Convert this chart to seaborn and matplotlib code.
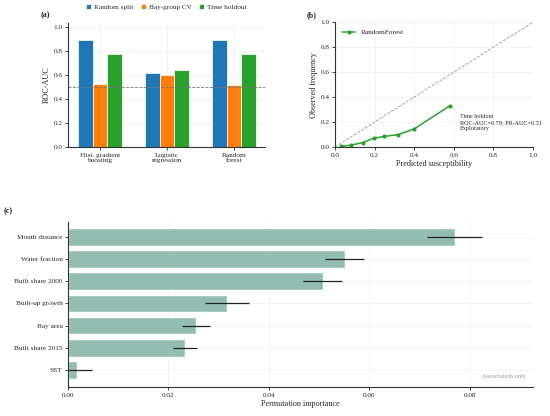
import numpy as np
import pandas as pd
import matplotlib
matplotlib.use("Agg")
import matplotlib.pyplot as plt
import seaborn as sns

sns.set_theme(style="ticks")
plt.rcParams['font.family'] = ['Liberation Serif', 'DejaVu Serif']
plt.rcParams['axes.edgecolor'] = '#333333'
plt.rcParams['axes.linewidth'] = 0.8

# ---- data (a) ----
models = ["Hist. gradient\nboosting", "Logistic\nregression", "Random\nforest"]
schemes = ["Random split", "Bay-group CV", "Time holdout"]
auc_random = [0.89, 0.62, 0.89]
auc_bay = [0.53, 0.60, 0.52]
auc_time = [0.775, 0.64, 0.78]

# ---- data (b) ----
pred_bins = [0.03, 0.08, 0.14, 0.195, 0.25, 0.32, 0.40, 0.58]
obs_freq = [0.005, 0.015, 0.035, 0.07, 0.085, 0.10, 0.145, 0.33]

# ---- data (c) ----
features = ["Mouth distance", "Water fraction", "Built share 2000", "Built-up growth",
            "Bay area", "Built share 2015", "SST"]
importance = [0.077, 0.0551, 0.0507, 0.0316, 0.0255, 0.0233, 0.0017]
imp_err = [0.0055, 0.0039, 0.0039, 0.0044, 0.0028, 0.0024, 0.0031]

colors = ["#1f77b4", "#ff7f0e", "#2ca02c"]
fs_lab = 5.9
fs_tick = 5.2

fig = plt.figure(figsize=(5.5, 4.16), dpi=100)
grid_kw = dict(color="#eeeeee", linewidth=0.5)

# ---------- panel (a) ----------
ax1 = fig.add_axes([0.1236, 0.6466, 0.358, 0.298])
df_a = pd.DataFrame({"model": models * 3,
                     "scheme": sum([[s] * 3 for s in schemes], []),
                     "auc": auc_random + auc_bay + auc_time})
sns.barplot(data=df_a, x="model", y="auc", hue="scheme", palette=colors, saturation=1,
            width=0.66, edgecolor="white", linewidth=0.5, ax=ax1, legend=True)
ax1.axhline(0.5, color="#777777", linestyle="--", linewidth=0.6)
ax1.set_xlim(-0.48, 2.46)
ax1.set_ylim(0, 1.035)
ax1.set_yticks(np.arange(0, 1.01, 0.2))
ax1.set_xlabel("")
ax1.set_ylabel("ROC-AUC", fontsize=fs_lab, labelpad=2)
ax1.tick_params(labelsize=fs_tick, length=2, width=0.6, pad=2)
ax1.grid(True, **grid_kw)
ax1.set_axisbelow(True)
h, l = ax1.get_legend_handles_labels()
ax1.get_legend().remove()
fig.legend(h, l, loc="center", bbox_to_anchor=(0.302, 0.983), ncol=3, frameon=False,
           fontsize=fs_tick, handlelength=0.7, handleheight=0.7, handletextpad=0.4,
           columnspacing=1.0)
sns.despine(ax=ax1)
fig.text(0.073, 0.963, "(a)", fontsize=fs_lab, fontweight="bold", va="center", ha="left")

# ---------- panel (b) ----------
ax2 = fig.add_axes([0.609, 0.6466, 0.36, 0.3])
ax2.plot([0, 1], [0, 1], linestyle="--", color="#999999", linewidth=0.6)
sns.lineplot(x=pred_bins, y=obs_freq, marker="o", color="#2ca02c", markersize=3,
             markeredgewidth=0, linewidth=1.1, label="RandomForest", ax=ax2)
ax2.set_xlim(0, 1)
ax2.set_ylim(0, 1)
ax2.set_xticks(np.arange(0, 1.01, 0.2))
ax2.set_yticks(np.arange(0, 1.01, 0.2))
ax2.set_xlabel("Predicted susceptibility", fontsize=fs_lab, labelpad=2)
ax2.set_ylabel("Observed frequency", fontsize=fs_lab, labelpad=2)
ax2.tick_params(labelsize=fs_tick, length=2, width=0.6, pad=2)
ax2.grid(True, **grid_kw)
ax2.legend(loc="upper left", frameon=False, fontsize=fs_tick, handlelength=1.8,
           borderaxespad=0.6)
ax2.text(0.63, 0.265, "Time holdout\nROC-AUC=0.79; PR-AUC=0.31\nExploratory",
         fontsize=4.4, va="top", ha="left", linespacing=1.3)
sns.despine(ax=ax2)
fig.text(0.558, 0.963, "(b)", fontsize=fs_lab, fontweight="bold", va="center", ha="left")

# ---------- panel (c) ----------
ax3 = fig.add_axes([0.1236, 0.0697, 0.845, 0.397])
df_c = pd.DataFrame({"feature": features, "importance": importance})
sns.barplot(data=df_c, y="feature", x="importance", color="#93bdb3", saturation=1,
            width=0.8, ax=ax3)
ax3.errorbar(importance, np.arange(len(features)), xerr=imp_err, fmt="none",
             ecolor="#222222", elinewidth=0.9, capsize=0)
ax3.set_xlim(0, 0.0925)
ax3.set_ylim(6.77, -0.68)
ax3.set_xticks([0, 0.02, 0.04, 0.06, 0.08])
ax3.set_xticklabels(["0.00", "0.02", "0.04", "0.06", "0.08"])
ax3.set_xlabel("Permutation importance", fontsize=fs_lab, labelpad=2)
ax3.set_ylabel("")
ax3.tick_params(labelsize=fs_tick, length=2, width=0.6, pad=2)
ax3.grid(True, **grid_kw)
ax3.set_axisbelow(True)
ax3.text(0.985, 0.05, "Association only", transform=ax3.transAxes, fontsize=fs_tick - 0.5,
         color="#999999", ha="right", va="bottom")
sns.despine(ax=ax3)
fig.text(0.007, 0.493, "(c)", fontsize=fs_lab, fontweight="bold", va="center", ha="left")

fig.savefig("out.png", dpi=100)
